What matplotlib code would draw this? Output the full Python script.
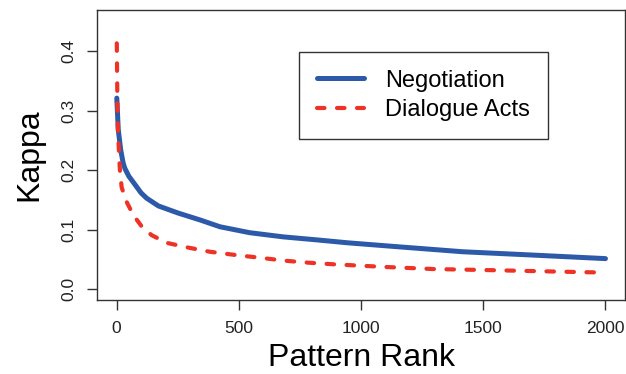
import matplotlib
matplotlib.use("Agg")
import matplotlib.pyplot as plt

plt.rcParams["font.family"] = ["Liberation Sans", "DejaVu Sans"]

# pattern rank vs kappa
neg_rank = [1, 7, 17, 27, 34, 50, 68, 100, 123, 171, 252, 341, 423, 545, 682,
            818, 947, 1145, 1417, 1690, 2000]
neg_kappa = [0.321, 0.268, 0.234, 0.212, 0.203, 0.190, 0.180, 0.162, 0.153, 0.140,
             0.128, 0.1165, 0.105, 0.095, 0.088, 0.083, 0.078, 0.0716, 0.063,
             0.0577, 0.0515]

da_rank = [1, 3, 5, 10, 14, 21, 41, 68, 102, 143, 205, 287, 382, 484, 586, 688,
           784, 886, 1097, 1295, 1499, 1690, 2000]
da_kappa = [0.413, 0.33, 0.273, 0.229, 0.198, 0.171, 0.147, 0.125, 0.106, 0.091,
            0.078, 0.0705, 0.063, 0.0577, 0.053, 0.048, 0.0447, 0.042, 0.0375,
            0.034, 0.0324, 0.0307, 0.028]

x_ticks = [0, 500, 1000, 1500, 2000]
y_ticks = [0.0, 0.1, 0.2, 0.3, 0.4]

W, H = 626, 374
fig = plt.figure(figsize=(W / 100, H / 100), dpi=100)
ax = fig.add_axes([97 / W, 1 - 300 / H, (625 - 97) / W, (300 - 10) / H])

ax.plot(neg_rank, neg_kappa, color="#2d5aa8", lw=3.6, solid_capstyle="round",
        label="Negotiation")
ax.plot(da_rank, da_kappa, color="#ee3326", lw=3.0, dash_capstyle="round",
        linestyle=(0, (1.8, 3.0)), label="Dialogue Acts")

ax.set_xlim(-80, 2080)
ax.set_ylim(-0.018, 0.469)
ax.set_xticks(x_ticks)
ax.set_yticks(y_ticks)
ax.set_xticklabels([str(t) for t in x_ticks])
ax.set_yticklabels([f"{t:.1f}" for t in y_ticks], rotation=90, va="center")
ax.tick_params(length=7, width=1, color="#333333", labelsize=12.5, pad=8,
               labelcolor="#222222")
for s in ax.spines.values():
    s.set_color("#333333")
    s.set_linewidth(1)

ax.set_xlabel("Pattern Rank", fontsize=23, labelpad=5)
ax.set_ylabel("Kappa", fontsize=23, labelpad=12)

leg = ax.legend(loc="upper left", bbox_to_anchor=(299 / W, 1 - 52 / H),
                bbox_transform=fig.transFigure, fontsize=17, fancybox=False,
                edgecolor="#333333", framealpha=1, handlelength=2.0,
                handletextpad=0.9, borderpad=0.75, labelspacing=0.3,
                borderaxespad=0)
leg.get_frame().set_linewidth(1)

fig.savefig("out.png", dpi=100)
